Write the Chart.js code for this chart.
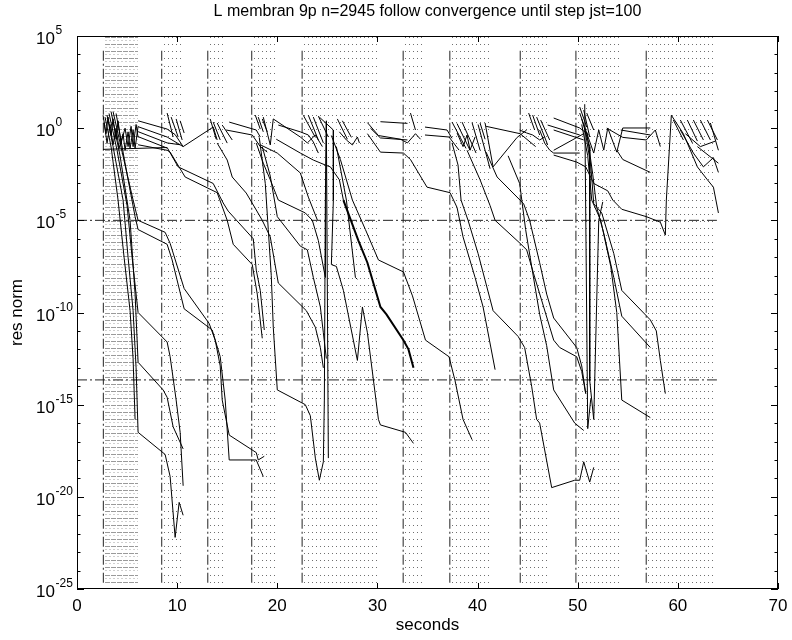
<!DOCTYPE html>
<html>
<head>
<meta charset="utf-8">
<title>L membran 9p convergence</title>
<script src="https://cdn.jsdelivr.net/npm/chart.js@4.4.0/dist/chart.umd.min.js"></script>
<style>
  html, body { margin: 0; padding: 0; background: #fff; }
  #wrap { width: 792px; height: 640px; }
</style>
</head>
<body>
<div id="wrap"><canvas id="chart" width="792" height="640"></canvas></div>
<script>
// each restart: start time and end of its dotted log (seconds)
const sectionStart = [2.63, 8.46, 13.06, 17.45, 22.48, 32.57, 37.23, 44.26, 49.82, 56.84];
const sectionEnd = [6.12, 10.36, 14.86, 19.88, 29.94, 34.57, 41.43, 47.25, 54.25, 63.74];
const limitLevels = [1e-5, 2.2e-14];
const xTicks = [0, 10, 20, 30, 40, 50, 60, 70];
const yTickExp = [5, 0, -5, -10, -15, -20, -25];

// residual histories: [seconds, log10(res norm)]
const runA = [
  [[2.8,0.6],[3.4,-1.0],[4.1,-3.9],[4.7,-7.0],[5.3,-9.9],[5.6,-12.5],[5.8,-15.8]],
  [[3.0,0.7],[3.6,-1.0],[4.6,-3.9],[5.1,-7.0],[5.6,-9.9],[5.9,-13.0],[6.1,-16.5],[8.8,-17.7],[9.3,-18.9],[9.8,-22.2],[10.2,-20.3],[10.6,-21.0]],
  [[3.2,0.8],[4.0,-1.2],[5.0,-4.2],[5.5,-7.0],[6.1,-10.0],[9.0,-11.6],[9.3,-12.4],[9.9,-14.75],[10.3,-16.5],[10.6,-19.4]],
  [[3.4,0.9],[4.3,-1.5],[5.3,-5.0],[5.8,-9.0],[6.1,-12.7],[8.6,-14.2],[9.0,-14.6],[9.6,-16.2],[10.6,-17.4]],
  [[3.6,0.9],[4.8,-2.0],[5.6,-3.9],[6.1,-5.0],[8.8,-5.65],[9.3,-6.25],[10.7,-8.7],[13.2,-10.6],[13.8,-11.5],[14.3,-12.9],[14.5,-14.75],[15.2,-16.65],[17.9,-17.6],[18.1,-18.0],[18.7,-17.8]],
  [[3.9,0.8],[5.0,-2.5],[5.8,-4.8],[6.1,-5.5],[9.0,-6.3],[9.5,-7.15],[10.7,-9.8],[13.5,-10.95],[14.3,-12.4],[14.8,-14.75],[15.2,-18.0],[17.9,-18.0],[18.6,-18.9]],
  [[2.6,-1.15],[9.0,-1.05],[10.1,-2.1],[13.6,-3.0],[14.6,-4.06],[15.1,-4.5],[17.6,-6.0],[17.9,-7.7],[18.3,-8.8],[18.7,-10.95]],
  [[6.1,-0.9],[9.0,-1.2],[9.3,-1.3],[10.8,-2.65],[14.0,-3.5],[15.0,-5.0],[15.6,-6.3],[17.5,-7.4],[18.0,-9.0],[18.5,-11.4]],
  [[6.1,0.4],[9.0,-0.05],[9.8,-0.35],[10.6,-1.0],[13.6,0.06],[14.0,-0.64]],
  [[6.1,0.08],[9.0,-0.48],[10.6,-1.0]],
  [[6.1,-0.19],[9.0,-0.8],[10.3,-0.9]],
  [[6.1,-0.46],[9.0,-1.08]],
  [[2.6,0.7],[2.9,-0.3],[3.1,0.6],[3.4,-0.4],[3.6,0.5],[3.9,-0.6],[4.1,0.4],[4.4,-0.8],[4.8,0.0],[5.1,-1.0],[5.4,0.1],[5.6,-1.0],[5.9,0.2],[6.1,-0.5]],
  [[2.7,0.3],[3.0,-0.8],[3.3,0.2],[3.6,-0.9],[3.9,0.0],[4.2,-1.1],[4.6,-0.3],[4.8,-1.2],[5.1,-0.2],[5.3,-1.1],[5.6,-0.1],[5.8,-1.1],[6.1,0.1]]
];

const runB = [
  [[15.2,0.33],[17.9,-0.1],[18.3,-0.48]],
  [[14.9,-0.1],[17.5,-0.37],[18.3,-1.0],[19.0,-1.3]],
  [[14.0,-0.81],[15.0,-1.73],[15.5,-2.65],[16.9,-3.52],[17.9,-4.44],[18.5,-5.0],[19.3,-5.9],[20.1,-8.4],[22.9,-9.9],[23.8,-10.8],[24.3,-11.9],[24.6,-13.0]],
  [[17.9,-0.81],[18.6,-1.9],[19.3,-2.8],[20.1,-3.9],[22.8,-4.6],[23.5,-5.0],[24.1,-6.1],[24.8,-8.1],[24.9,0.4],[25.1,-17.9]],
  [[18.5,-1.0],[19.3,-2.6],[20.0,-4.8],[22.3,-6.4],[23.0,-6.6],[23.6,-8.1],[24.3,-9.7],[24.6,-11.1],[24.9,-12.5]],
  [[18.2,-0.5],[18.8,-3.0],[19.1,-5.5],[19.4,-8.0],[19.6,-10.8],[20.0,-14.2],[22.8,-15.0],[23.3,-15.6],[23.8,-17.9],[24.2,-19.1],[24.6,-18.1],[24.7,-14.75],[24.8,-3.9],[24.9,0.3]],
  [[18.6,0.6],[19.3,-0.91],[19.6,0.5]],
  [[20.1,0.17],[22.3,-0.2],[23.1,-0.37],[23.6,-0.75],[24.1,-1.35]],
  [[18.3,-0.9],[20.0,-1.35],[22.3,-2.43],[23.1,-3.74],[24.0,-4.98]],
  [[19.6,0.5],[22.3,-0.48],[23.0,-0.8],[23.8,-0.37],[24.5,-1.0]],
  [[19.9,-0.6],[22.3,-1.35],[23.6,-1.73],[24.8,-2.0],[25.3,-2.1],[26.2,-2.8],[26.6,-3.9]]
];

const runC = [
  [[24.2,0.6],[25.6,-0.1],[25.6,-3.9],[25.4,-7.4],[25.9,-7.5],[26.6,-8.8],[28.0,-12.6],[28.5,-9.7],[29.0,-11.1],[30.1,-15.8],[30.3,-16.1],[32.8,-16.5],[33.6,-17.1]],
  [[25.4,-0.4],[26.3,-1.7],[27.5,-3.9],[28.8,-5.5],[30.1,-7.15],[32.6,-7.8],[33.5,-9.1],[34.8,-11.5],[37.15,-12.4],[37.75,-13.7],[38.55,-15.8],[39.45,-16.9]],
  [[25.9,-1.0],[26.9,-3.9],[27.8,-8.1],[28.0,-8.2]],
  [[26.2,-0.2],[26.9,-0.64],[27.5,-0.91],[28.0,-0.48],[28.2,-0.8]],
  [[29.0,0.3],[30.1,-0.4],[32.3,-0.6],[33.0,-0.8],[33.8,-0.3],[34.3,-0.6]],
  [[30.3,0.35],[33.0,0.26]],
  [[29.3,0.0],[30.3,-0.53],[33.0,-0.64]],
  [[29.0,-0.3],[30.3,-1.3],[32.6,-1.35],[33.3,-1.7],[34.95,-3.2],[37.25,-3.5],[37.95,-4.3],[38.55,-5.9],[39.75,-8.1],[40.55,-9.7],[41.75,-13.1]],
  [[34.75,0.06],[36.95,-0.1],[37.45,-0.55]],
  [[34.75,-0.37],[37.15,-0.48],[38.15,-1.19]],
  [[37.95,-0.26],[38.55,-1.0],[38.95,-0.37],[39.25,-1.19],[39.75,-0.48]],
  [[40.75,0.28],[41.55,-2.1],[43.95,-0.5],[44.9,-0.1]]
];

// the doubled, heavier history in the 26-34 s window
const runThick = [[26.6,-3.9],[28.1,-6.1],[29.0,-7.3],[30.3,-9.7],[30.9,-10.1],[32.6,-11.5],[33.1,-12.0],[33.6,-13.0]];

const runD = [
  [[37.45,-0.8],[38.05,-2.0],[38.35,-3.9],[39.05,-5.0],[40.05,-6.8],[41.55,-9.9],[44.05,-11.3],[44.7,-11.9],[45.4,-14.0],[45.9,-15.8],[46.2,-16.0],[47.4,-19.5],[49.7,-19.1],[50.2,-19.1],[50.6,-18.1],[51.2,-19.2],[51.6,-18.4]],
  [[38.95,-1.2],[40.25,-2.8],[41.25,-4.2],[41.75,-5.0],[44.25,-6.25],[44.9,-6.6],[45.6,-7.9],[46.6,-9.7],[47.6,-11.5],[48.2,-11.9],[49.9,-12.4],[50.4,-13.2],[50.8,-14.4]],
  [[40.85,-1.3],[41.95,-2.65],[44.6,-4.1],[45.2,-5.0],[46.2,-7.3],[46.9,-9.0],[47.6,-10.3],[49.9,-11.9],[50.4,-12.9],[50.8,-14.4]],
  [[43.05,-1.5],[44.2,-3.0],[44.8,-5.5],[45.4,-7.5],[46.2,-10.1],[46.9,-11.8],[47.6,-14.2],[49.7,-16.0],[50.6,-16.4]],
  [[44.2,-0.1],[44.9,-0.26],[45.5,-0.37],[46.2,-0.64],[46.7,-0.48],[47.0,-0.91]],
  [[46.2,-0.1],[46.7,-0.81],[47.2,-1.19],[47.6,-1.35],[50.2,-1.35]],
  [[47.6,0.55],[50.2,0.01],[51.1,-0.37]],
  [[47.0,0.17],[50.2,-0.37]],
  [[47.6,-0.1],[50.6,-0.64]],
  [[47.6,-1.2],[50.6,-0.3]],
  [[40.85,0.1],[44.25,-0.3],[45.8,-1.0]]
];

const runE = [
  [[47.6,-1.46],[49.9,-1.84],[50.8,-2.1],[51.6,-3.0],[53.0,-3.4],[53.5,-3.9],[54.4,-4.4],[56.85,-4.8],[58.25,-5.1],[58.75,-5.8],[58.85,-3.9],[59.35,0.7],[60.55,-0.3],[61.95,-2.1],[62.95,-2.8],[63.55,-3.2],[64.05,-4.6]],
  [[50.2,0.82],[51.6,-1.35],[52.1,-0.1],[52.6,-1.19],[53.0,0.01],[53.9,-1.3],[54.5,0.01],[57.25,0.01]],
  [[50.7,1.3],[51.0,-16.3],[51.3,-14.7]],
  [[50.4,0.5],[51.2,-1.0],[51.2,-13.7],[51.6,-15.8],[52.1,-5.0],[52.5,-4.0]],
  [[50.4,0.2],[51.0,-1.5],[51.4,-3.9],[52.3,-5.0],[53.3,-7.5],[53.9,-10.0],[54.4,-14.75],[57.25,-15.7]],
  [[50.7,0.0],[51.3,-2.0],[51.6,-4.1],[52.4,-4.6],[53.6,-6.8],[54.4,-8.8],[57.25,-10.4],[57.85,-11.0],[58.25,-12.6],[58.75,-14.4]],
  [[50.9,-0.2],[51.5,-2.5],[51.9,-4.3],[52.6,-5.7],[53.6,-8.1],[54.4,-10.2],[57.25,-11.9]],
  [[52.9,0.0],[54.5,-0.5],[56.85,-0.64],[57.75,-0.1],[58.25,-1.0]],
  [[53.9,-1.2],[54.5,-1.7],[57.25,-2.4]],
  [[54.3,-0.1],[57.25,-0.37]],
  [[60.25,-0.1],[61.55,-1.35],[62.55,-2.1],[63.55,-1.6],[64.05,-2.4]],
  [[61.95,-1.0],[64.05,-1.9]],
  [[60.75,-0.3],[62.25,-1.0],[63.75,-0.7]]
];

// short first steps after each restart: [t1, log1, t2, log2]
const firstSteps = [
  [9.0,0.82,9.6,-0.48],[9.4,0.6,10.1,-0.48],[9.9,0.5,10.5,-0.64],[10.3,0.4,10.7,-0.26],
  [13.3,0.5,13.9,-0.6],[13.6,0.33,14.3,-0.64],[14.0,0.28,15.0,-0.81],[14.5,0.17,15.5,-0.64],
  [17.8,0.71,18.3,-0.05],[18.1,0.6,18.6,-0.2],[18.5,0.5,19.0,-0.2],
  [22.6,0.7,23.8,-0.5],[23.1,0.7,24.1,-0.64],[23.6,0.6,24.6,-0.8],[24.1,0.65,25.1,-0.48],[26.0,0.5,27.0,-0.6],[26.5,0.4,27.4,-0.5],
  [33.3,0.82,33.8,-0.1],
  [37.45,0.33,38.85,-1.1],[37.95,0.25,39.25,-1.2],[38.45,0.33,39.85,-1.35],[39.45,0.3,40.25,-1.2],[40.25,0.28,40.75,-0.6],[40.05,0.2,41.25,-2.2],
  [45.1,0.82,45.7,-0.1],[45.5,0.71,46.2,-0.37],[45.9,0.6,46.7,-0.48],[46.3,0.44,47.2,-0.64],
  [50.2,1.15,50.9,0.06],[50.6,0.98,51.2,-0.48],[50.9,0.82,51.6,-0.1],
  [59.55,0.44,60.55,-0.64],[60.25,0.44,61.45,-0.8],[60.95,0.44,61.95,-0.7],[61.55,0.44,62.55,-0.64],[62.25,0.44,63.25,-0.64],[62.95,0.44,63.95,-0.64],[63.25,0.28,64.05,-1.2]
];

const FONT = '"Liberation Sans", Arial, Helvetica, sans-serif';
const dashDot = [10, 3, 2, 3];

function toPoints(line) {
  return line.map(p => ({ x: p[0], y: Math.pow(10, p[1]) }));
}

function lineSet(points, opts) {
  return Object.assign({
    data: points,
    showLine: true,
    borderColor: '#000',
    borderWidth: 1,
    pointRadius: 0,
    tension: 0,
    fill: false
  }, opts || {});
}

const datasets = [];
[runA, runB, runC, runD, runE].forEach(group => {
  group.forEach(line => datasets.push(lineSet(toPoints(line))));
});
datasets.push(lineSet(toPoints(runThick), { borderWidth: 2 }));

const stepPoints = [];
firstSteps.forEach(s => {
  stepPoints.push({ x: s[0], y: Math.pow(10, s[1]) });
  stepPoints.push({ x: s[2], y: Math.pow(10, s[3]) });
  stepPoints.push({ x: s[2], y: null });
});
datasets.push(lineSet(stepPoints, { spanGaps: false }));

sectionStart.forEach(s => {
  datasets.push(lineSet([{ x: s, y: Math.pow(10, 4.2) }, { x: s, y: Math.pow(10, -24.7) }],
    { borderDash: dashDot, borderColor: '#222' }));
});
limitLevels.forEach(v => {
  datasets.push(lineSet([{ x: 0, y: v }, { x: 63.9, y: v }],
    { borderDash: dashDot, borderColor: '#222' }));
});

// dotted log rows inside each restart window
const rowsPlugin = {
  id: 'sectionRows',
  beforeDatasetsDraw(chart) {
    const ctx = chart.ctx;
    const xs = chart.scales.x, ys = chart.scales.y;
    const top = ys.getPixelForValue(Math.pow(10, 4.93));
    const bottom = ys.getPixelForValue(Math.pow(10, -24.6));
    const n = 77;
    ctx.save();
    ctx.lineWidth = 1;
    sectionStart.forEach((s, i) => {
      const x0 = Math.round(xs.getPixelForValue(s)) + 2;
      const x1 = Math.round(xs.getPixelForValue(sectionEnd[i]));
      const dense = i === 0;
      for (let k = 0; k <= n; k++) {
        const y = Math.round(top + (bottom - top) * k / n) + 0.5;
        ctx.strokeStyle = dense ? '#9a9a9a' : '#707070';
        ctx.setLineDash(dense ? [5, 1] : [1, 3]);
        ctx.beginPath();
        ctx.moveTo(x0, y);
        ctx.lineTo(x1, y);
        ctx.stroke();
        if (dense && k < n) {
          ctx.strokeStyle = '#cfcfcf';
          ctx.setLineDash([2, 2]);
          ctx.beginPath();
          ctx.moveTo(x0, y + 3);
          ctx.lineTo(x1, y + 3);
          ctx.stroke();
        }
      }
    });
    ctx.restore();
  }
};

// box, inward ticks and labels in the old MATLAB style
const framePlugin = {
  id: 'frame',
  afterDraw(chart) {
    const ctx = chart.ctx;
    const a = chart.chartArea;
    const xs = chart.scales.x, ys = chart.scales.y;
    ctx.save();
    ctx.setLineDash([]);
    ctx.strokeStyle = '#000';
    ctx.lineWidth = 1;
    ctx.strokeRect(a.left + 0.5, a.top + 0.5, a.right - a.left - 1, a.bottom - a.top - 1);
    ctx.beginPath();
    xTicks.forEach(v => {
      const px = Math.round(xs.getPixelForValue(v)) + 0.5;
      ctx.moveTo(px, a.bottom); ctx.lineTo(px, a.bottom - 6);
      ctx.moveTo(px, a.top); ctx.lineTo(px, a.top + 6);
    });
    for (let e = -25; e <= 5; e++) {
      const py = Math.round(ys.getPixelForValue(Math.pow(10, e))) + 0.5;
      const len = e % 5 === 0 ? 7 : 3.5;
      ctx.moveTo(a.left, py); ctx.lineTo(a.left + len, py);
      ctx.moveTo(a.right, py); ctx.lineTo(a.right - len, py);
    }
    ctx.stroke();

    ctx.fillStyle = '#000';
    ctx.font = '17px ' + FONT;
    ctx.textAlign = 'center';
    ctx.textBaseline = 'middle';
    xTicks.forEach(v => ctx.fillText(String(v), xs.getPixelForValue(v), a.bottom + 17));

    ctx.textBaseline = 'alphabetic';
    yTickExp.forEach(e => {
      const py = ys.getPixelForValue(Math.pow(10, e));
      ctx.font = '17px ' + FONT;
      ctx.textAlign = 'right';
      ctx.fillText('10', 55, py + 8);
      ctx.font = '12px ' + FONT;
      ctx.textAlign = 'left';
      ctx.fillText(String(e), 55.5, py - 2);
    });

    ctx.textAlign = 'center';
    ctx.textBaseline = 'middle';
    ctx.font = '16px ' + FONT;
    ctx.fillText('L membran 9p n=2945 follow convergence until step jst=100', (a.left + a.right) / 2, 12);
    ctx.font = '17px ' + FONT;
    ctx.fillText('seconds', (a.left + a.right) / 2, 625);
    ctx.translate(17, (a.top + a.bottom) / 2);
    ctx.rotate(-Math.PI / 2);
    ctx.fillText('res norm', 0, 0);
    ctx.restore();
  }
};

new Chart(document.getElementById('chart'), {
  type: 'scatter',
  data: { datasets: datasets },
  options: {
    responsive: false,
    animation: false,
    devicePixelRatio: 1,
    events: [],
    layout: { padding: { left: 77, right: 14, top: 36, bottom: 51 } },
    plugins: { legend: { display: false }, tooltip: { enabled: false } },
    scales: {
      x: { type: 'linear', min: 0, max: 70, display: false },
      y: { type: 'logarithmic', min: 1e-25, max: 1e5, display: false }
    }
  },
  plugins: [rowsPlugin, framePlugin]
});
</script>
</body>
</html>
